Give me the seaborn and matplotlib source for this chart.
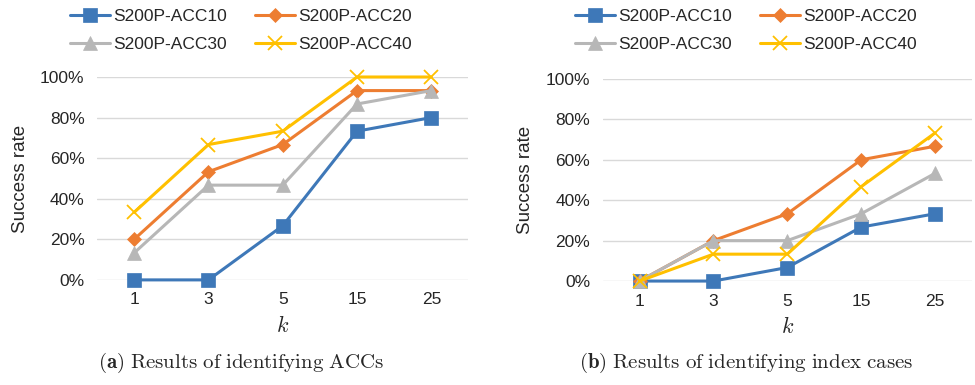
import pandas as pd
import numpy as np
import matplotlib.pyplot as plt
import seaborn as sns

# ---------------------
# data
# ---------------------
k_labels = ['1', '3', '5', '15', '25']
series = ['S200P-ACC10', 'S200P-ACC20', 'S200P-ACC30', 'S200P-ACC40']

# (a) identifying ACCs
acc_a10 = [0.0, 0.0, 0.267, 0.733, 0.80]
acc_a20 = [0.20, 0.533, 0.667, 0.933, 0.933]
acc_a30 = [0.133, 0.467, 0.467, 0.867, 0.933]
acc_a40 = [0.333, 0.667, 0.733, 1.0, 1.0]

# (b) identifying index cases
idx_b10 = [0.0, 0.0, 0.067, 0.267, 0.333]
idx_b20 = [0.0, 0.20, 0.333, 0.60, 0.667]
idx_b30 = [0.0, 0.20, 0.20, 0.333, 0.533]
idx_b40 = [0.0, 0.133, 0.133, 0.467, 0.733]

colors = ['#3E78B8', '#ED7D31', '#B7B7B7', '#FFC000']
markers = ['s', 'D', '^', 'x']
msizes = [10, 7, 10, 10]


def long_df(vals):
    rows = []
    for name, v in zip(series, vals):
        for kk, val in zip(k_labels, v):
            rows.append({'k': kk, 'rate': val, 'series': name})
    return pd.DataFrame(rows)


df_a = long_df([acc_a10, acc_a20, acc_a30, acc_a40])
df_b = long_df([idx_b10, idx_b20, idx_b30, idx_b40])

sns.set_style('white')
plt.rcParams['font.family'] = ['Liberation Sans', 'DejaVu Sans']
plt.rcParams['mathtext.fontset'] = 'cm'

fig = plt.figure(figsize=(9.75, 3.85), dpi=100)
ax_a = fig.add_axes([0.0995, 0.273, 0.381, 0.527])
ax_b = fig.add_axes([0.618, 0.270, 0.379, 0.525])


def draw(ax, df, legend_x):
    for name, c, m, ms in zip(series, colors, markers, msizes):
        sub = df[df['series'] == name]
        sns.lineplot(x='k', y='rate', data=sub, ax=ax, color=c,
                     marker=m, markersize=ms, linewidth=2.2,
                     markeredgecolor=c, markeredgewidth=1.3 if m == 'x' else 0.5,
                     label=name, sort=False, clip_on=False, zorder=3)
    ax.set_ylim(0, 1.0)
    ax.set_xlim(-0.5, 4.5)
    ax.set_yticks(np.arange(0, 1.01, 0.2))
    ax.set_yticklabels([f'{int(round(t*100))}%' for t in np.arange(0, 1.01, 0.2)])
    ax.yaxis.grid(True, color='#D9D9D9', linewidth=1)
    ax.set_axisbelow(True)
    for s in ax.spines.values():
        s.set_visible(False)
    ax.tick_params(axis='both', length=0, labelsize=12.5, pad=9)
    ax.set_xlabel('$k$', fontsize=16, labelpad=6)
    ax.set_ylabel('Success rate', fontsize=13.5, labelpad=8)
    ax.legend_.remove()
    h, l = ax.get_legend_handles_labels()
    # matplotlib fills legend column-wise; reorder so rows read 10,20 / 30,40
    order = [0, 2, 1, 3]
    fig.legend([h[i] for i in order], [l[i] for i in order], ncol=2,
               loc='center', bbox_to_anchor=(legend_x, 0.92),
               frameon=False, fontsize=12.5, handlelength=2.3,
               handletextpad=0.2, columnspacing=1.6, labelspacing=0.75)


draw(ax_a, df_a, 0.247)
draw(ax_b, df_b, 0.765)

fig.text(0.247, 0.045, r'$\mathbf{(a)}$ $\mathrm{Results\ of\ identifying\ ACCs}$',
         ha='center', fontsize=15)
fig.text(0.765, 0.045, r'$\mathbf{(b)}$ $\mathrm{Results\ of\ identifying\ index\ cases}$',
         ha='center', fontsize=15)

plt.savefig('out.png', dpi=100)
